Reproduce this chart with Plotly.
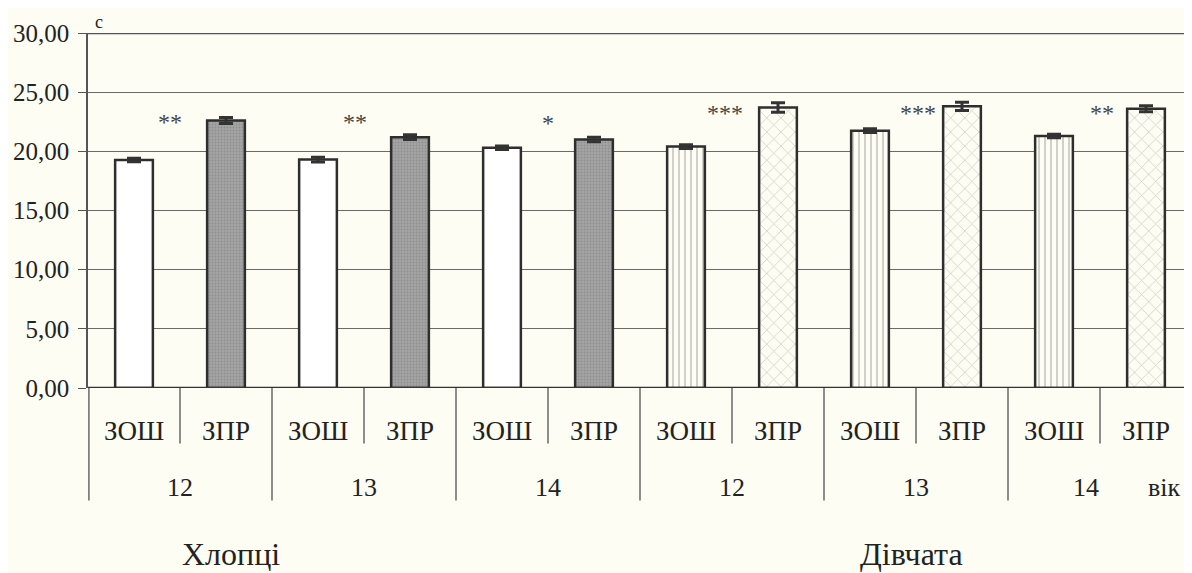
import plotly.graph_objects as go

# ---- data ----
ages = ["12", "13", "14", "12", "13", "14"]
schools = ["ЗОШ", "ЗПР"]
boys_zosh = [19.27, 19.3, 20.3]
boys_zpr = [22.6, 21.2, 21.0]
girls_zosh = [20.4, 21.75, 21.3]
girls_zpr = [23.7, 23.8, 23.6]
boys_zosh_err = [0.15, 0.2, 0.15]
boys_zpr_err = [0.25, 0.2, 0.2]
girls_zosh_err = [0.15, 0.15, 0.15]
girls_zpr_err = [0.4, 0.35, 0.25]
stars = ["**", "**", "*", "***", "***", "**"]
y_ticks = [0, 5, 10, 15, 20, 25, 30]
genders = ["Хлопці", "Дівчата"]

# label placement (style, not data)
star_y = [22.5, 22.5, 22.4, 23.2, 23.2, 23.2]
star_dx = [0.39, 0.40, 0.50, 0.42, 0.52, 0.52]

BG = "#fdfdf3"
EDGE = "#2e2e2e"
SERIF = "'Liberation Serif', 'Times New Roman', serif"
YMAX = 30.0

def py(v):
    """value in y units -> paper fraction (may be below the plot)"""
    return v / YMAX

# positions of categories (index per bar)
boys_zosh_x = [0, 2, 4]
boys_zpr_x = [1, 3, 5]
girls_zosh_x = [6, 8, 10]
girls_zpr_x = [7, 9, 11]

fig = go.Figure()

def add_bar(x, y, err, fill, pattern=None):
    marker = dict(color=fill, line=dict(color=EDGE, width=2.5))
    if pattern:
        marker["pattern"] = pattern
    fig.add_trace(go.Bar(
        x=x, y=y, width=0.41, marker=marker,
        error_y=dict(type="data", array=err, visible=True,
                     color="#333333", thickness=3, width=7),
        showlegend=False,
    ))

add_bar(boys_zosh_x, boys_zosh, boys_zosh_err, "#ffffff")
add_bar(boys_zpr_x, boys_zpr, boys_zpr_err, "#9a9a9a",
        dict(shape=".", fgcolor="#7a7a7a", bgcolor="#a4a4a4", size=3, solidity=0.35))
add_bar(girls_zosh_x, girls_zosh, girls_zosh_err, BG,
        dict(shape="|", fgcolor="#9a9a9a", bgcolor=BG, size=6, solidity=0.3))
add_bar(girls_zpr_x, girls_zpr, girls_zpr_err, BG,
        dict(shape="x", fgcolor="#a0a0a0", bgcolor=BG, size=10, solidity=0.15))

annotations = []
# significance stars
for i, (s, sy, dx) in enumerate(zip(stars, star_y, star_dx)):
    annotations.append(dict(x=2 * i + dx, y=sy, xref="x", yref="y", text=s,
                            showarrow=False, font=dict(family=SERIF, size=24, color="#444"),
                            xanchor="center", yanchor="middle"))
# category labels
shapes = []
for i, age in enumerate(ages):
    for j, sch in enumerate(schools):
        annotations.append(dict(x=2 * i + j, y=py(-3.6), xref="x", yref="paper", text=sch,
                                showarrow=False, font=dict(family=SERIF, size=27, color="#222"),
                                xanchor="center", yanchor="middle"))
    ax = 2 * i + 0.5
    if i == len(ages) - 1:
        ax = 2 * i + 0.35
    annotations.append(dict(x=ax, y=py(-8.4), xref="x", yref="paper", text=age,
                            showarrow=False, font=dict(family=SERIF, size=26, color="#222"),
                            xanchor="center", yanchor="middle"))
    # inner divider
    shapes.append(dict(type="line", xref="x", yref="paper", x0=2 * i + 0.5, x1=2 * i + 0.5,
                       y0=0, y1=py(-4.7), line=dict(color="#444", width=1.2)))
    # group divider
    gx = 2 * i - 0.5 if i > 0 else -0.49
    shapes.append(dict(type="line", xref="x", yref="paper", x0=gx, x1=gx,
                       y0=0, y1=py(-9.5), line=dict(color="#444", width=1.2)))

annotations.append(dict(x=11.2, y=py(-8.4), xref="x", yref="paper", text="вік", showarrow=False,
                        font=dict(family=SERIF, size=26, color="#222"),
                        xanchor="center", yanchor="middle"))
annotations.append(dict(x=-0.38, y=py(29.95), xref="x", yref="paper", text="с", showarrow=False,
                        font=dict(family=SERIF, size=18, color="#222"),
                        xanchor="center", yanchor="bottom"))
annotations.append(dict(x=1.05, y=py(-14.0), xref="x", yref="paper", text=genders[0], showarrow=False,
                        font=dict(family=SERIF, size=32, color="#222"),
                        xanchor="center", yanchor="middle"))
annotations.append(dict(x=8.45, y=py(-14.0), xref="x", yref="paper", text=genders[1], showarrow=False,
                        font=dict(family=SERIF, size=32, color="#222"),
                        xanchor="center", yanchor="middle"))

# top border line
shapes.append(dict(type="line", xref="paper", yref="y", x0=0, x1=1, y0=30, y1=30,
                   line=dict(color="#555", width=2.5)))
# baseline
shapes.append(dict(type="line", xref="paper", yref="y", x0=0, x1=1, y0=0, y1=0,
                   line=dict(color="#333", width=2.5)))

fig.update_layout(
    width=1184, height=565,
    margin=dict(l=80, r=0, t=25, b=185),
    paper_bgcolor=BG, plot_bgcolor=BG,
    barmode="overlay",
    separators=", ",
    annotations=annotations,
    shapes=shapes,
    xaxis=dict(range=[-0.5, 11.5], showticklabels=False, showgrid=False,
               zeroline=False, showline=False, ticks=""),
    yaxis=dict(range=[0, YMAX], tickvals=y_ticks, tickformat=".2f",
               tickfont=dict(family=SERIF, size=25, color="#222"),
               ticklabelstandoff=4,
               showgrid=True, gridcolor="#6a6a6a", gridwidth=1.2,
               showline=True, linecolor="#555", linewidth=1.5,
               ticks="outside", ticklen=8, tickcolor="#555",
               zeroline=False),
)

fig.write_html("out.html")
